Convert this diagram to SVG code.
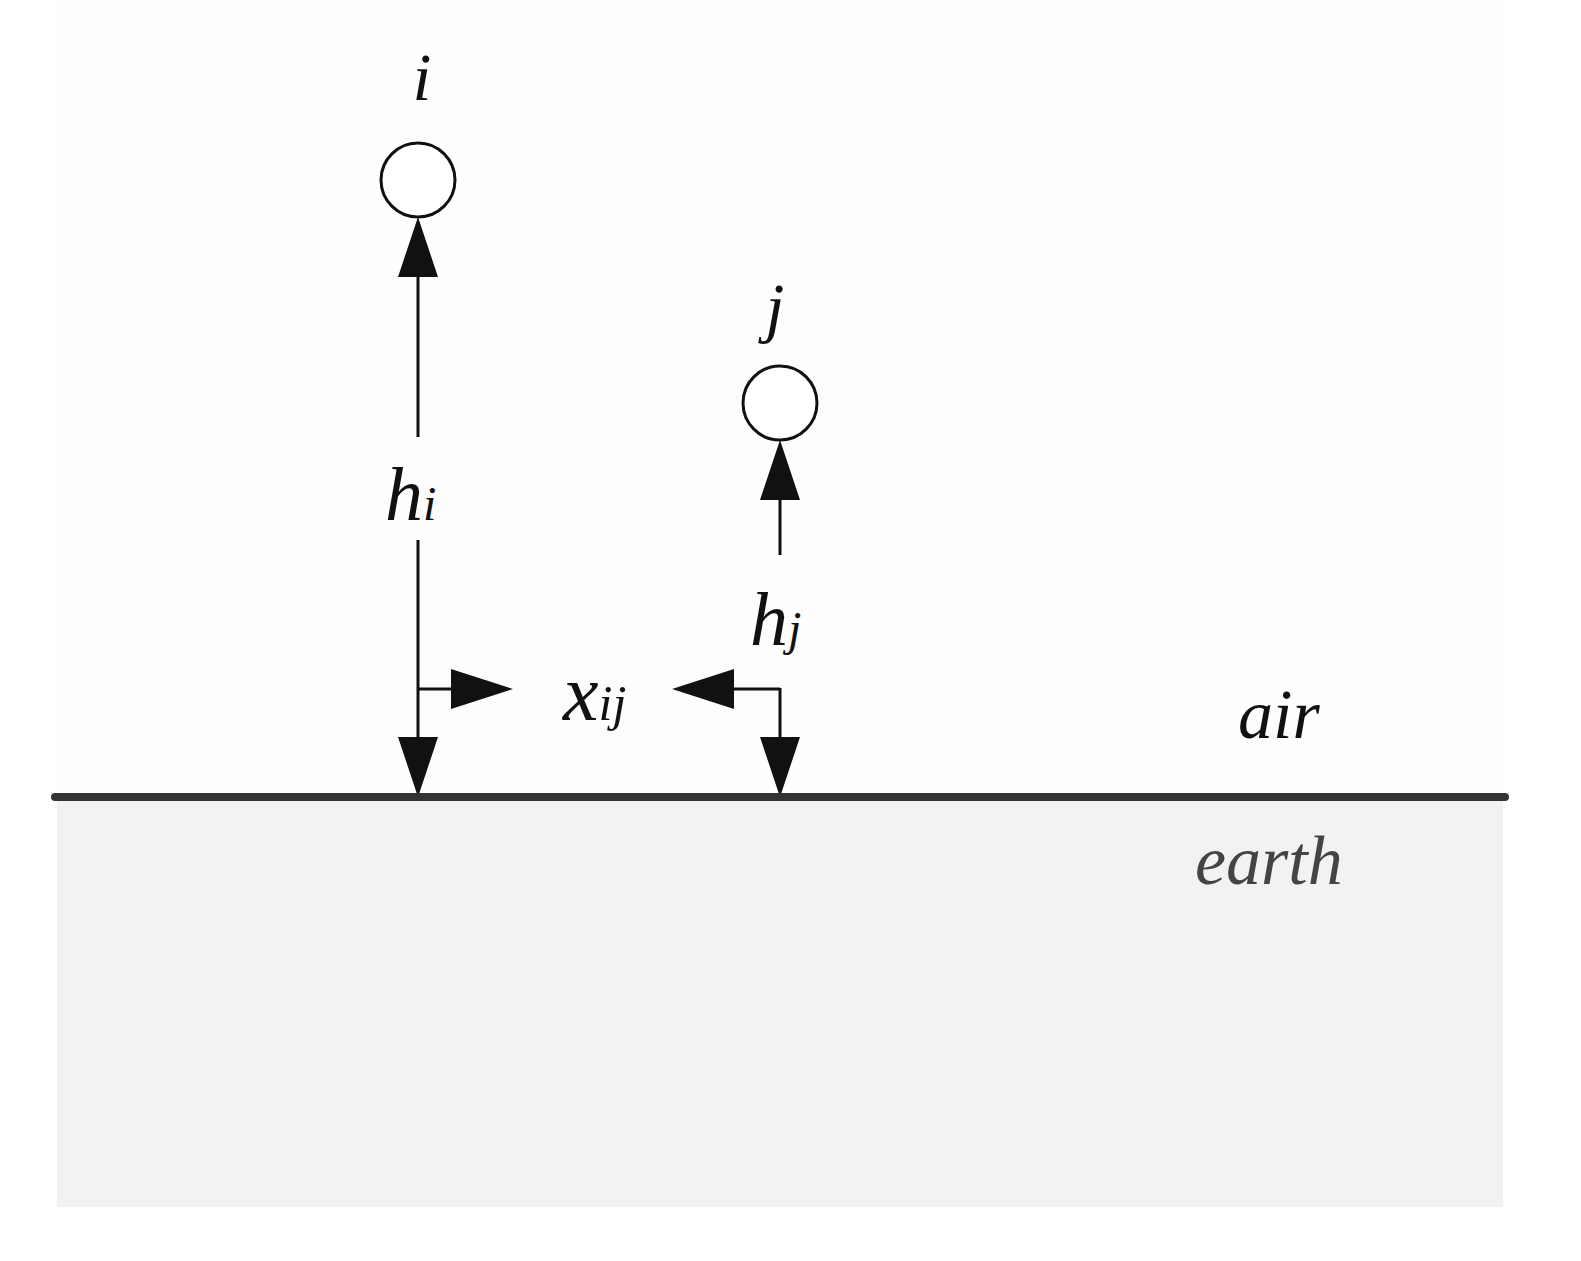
<svg xmlns="http://www.w3.org/2000/svg" width="1581" height="1261" viewBox="0 0 1581 1261">
<style>
.t{font-family:"Liberation Serif",serif;font-style:italic;fill:#111}
.l{stroke:#111;stroke-width:3;fill:none}
.h{fill:#111}
</style>
<rect width="1581" height="1261" fill="#fff"/>
<rect x="57" y="0" width="1446" height="797" fill="#fdfdfd"/>
<rect x="57" y="797" width="1446" height="410" fill="#f2f2f2"/>
<g id="node-i"><circle cx="418" cy="180" r="37" fill="#fff" stroke="#111" stroke-width="3"/><text class="t" x="422" y="100" font-size="68" text-anchor="middle">i</text></g>
<g id="node-j"><circle cx="780" cy="403" r="37" fill="#fff" stroke="#111" stroke-width="3"/><text class="t" x="775" y="330" font-size="68" text-anchor="middle">j</text></g>
<g id="connectors">
<path class="l" d="M418 270V437M418 540V745M780 495V555M780 688V745M418 689H455M780 689H730"/>
<polygon class="h" points="418,217 398,277 438,277"/>
<polygon class="h" points="418,797 398,737 438,737"/>
<polygon class="h" points="780,440 760,500 800,500"/>
<polygon class="h" points="780,797 760,737 800,737"/>
<polygon class="h" points="513,689 451,669 451,709"/>
<polygon class="h" points="672,689 734,669 734,709"/>
</g>
<line x1="55" y1="797" x2="1505" y2="797" stroke="#333" stroke-width="8" stroke-linecap="round"/>
<text class="t" x="385" y="520" font-size="76">h<tspan font-size="48">i</tspan></text>
<text class="t" x="750" y="645" font-size="76">h<tspan font-size="48">j</tspan></text>
<text class="t" x="563" y="720" font-size="80">x<tspan font-size="50">ij</tspan></text>
<text class="t" x="1238" y="738" font-size="70">air</text>
<text class="t" x="1195" y="884" font-size="70" style="fill:#444">earth</text>
</svg>
